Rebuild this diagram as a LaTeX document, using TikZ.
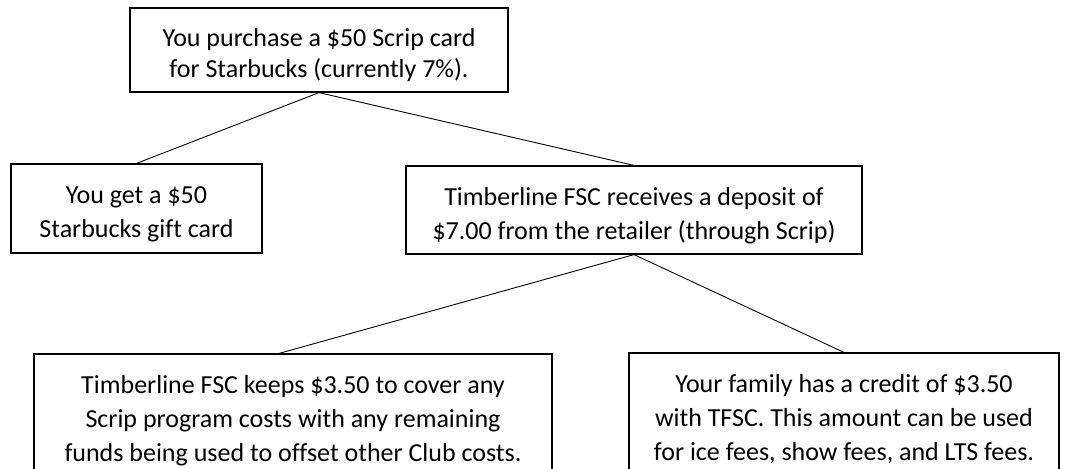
\documentclass[tikz,border=0pt]{standalone}
\usepackage{fontspec}
\setmainfont{Carlito}[Ligatures=NoCommon]
\begin{document}
\begin{tikzpicture}[x=1pt,y=-1pt,
  box/.style={draw, line width=1.2pt, inner sep=0pt, align=center,
    font=\fontsize{26}{34}\selectfont, text depth=5pt},
  link/.style={line width=0.9pt}]
\useasboundingbox (0,0) rectangle (1075,468);
\clip (0,0) rectangle (1075,468);
\node[box, font=\fontsize{26}{31}\selectfont, minimum width=378pt, minimum height=84pt, text height=61pt] (buy) at (319,50)
  {You purchase a \$50 Scrip card\\for Starbucks (currently 7\%).};
\node[box, minimum width=251pt, minimum height=89pt, text height=62pt] (gift) at (136.5,208.5)
  {You get a \$50\\Starbucks gift card};
\node[box, minimum width=456pt, minimum height=88pt, text height=63pt] (deposit) at (634,210)
  {Timberline FSC receives a deposit of\\\$7.00 from the retailer (through Scrip)};
\node[box, minimum width=518pt, minimum height=125pt, text height=94pt] (keep) at (293,416.5)
  {Timberline FSC keeps \$3.50 to cover any\\Scrip program costs with any remaining\\funds being used to offset other Club costs.};
\node[box, minimum width=430pt, minimum height=125pt, text height=94pt] (credit) at (844,415.5)
  {Your family has a credit of \$3.50\\with TFSC. This amount can be used\\for ice fees, show fees, and LTS fees.};
\draw[link] (buy.south) -- (gift.north);
\draw[link] (buy.south) -- (deposit.north);
\draw[link] (deposit.south) -- ([xshift=-14pt]keep.north);
\draw[link] (deposit.south) -- (credit.north);
\end{tikzpicture}
\end{document}
